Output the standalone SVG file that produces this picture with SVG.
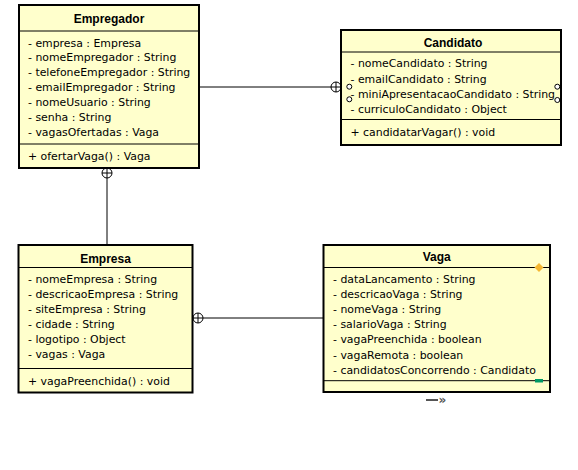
<svg xmlns="http://www.w3.org/2000/svg" width="578" height="470" viewBox="0 0 578 470">
<style>
.box{fill:#FFFFCC;stroke:#000;stroke-width:2}
.sep{stroke:#000;stroke-width:1}
.t{font-family:"Liberation Sans",Arial,sans-serif;font-size:12px;font-weight:bold;fill:#000;text-anchor:middle}
.a{font-family:"DejaVu Sans",Verdana,sans-serif;font-size:10.9px;fill:#000}
.ln{stroke:#000;stroke-width:1;fill:none}
.oc{fill:#fff;stroke:#000;stroke-width:1}
.pt{fill:#fff;stroke:#000;stroke-width:1}
</style>
<rect width="578" height="470" fill="#fff"/>
<g id="connectors">
<line class="ln" x1="199" y1="87" x2="331" y2="87"/>
<g class="oc"><circle cx="336" cy="87" r="5"/><line x1="331" y1="87" x2="341" y2="87"/><line x1="336" y1="82" x2="336" y2="92"/></g>
<line class="ln" x1="107" y1="178" x2="107" y2="245"/>
<g class="oc"><circle cx="107" cy="173" r="5"/><line x1="102" y1="173" x2="112" y2="173"/><line x1="107" y1="168" x2="107" y2="178"/></g>
<line class="ln" x1="203" y1="318" x2="323" y2="318"/>
<g class="oc"><circle cx="198" cy="318" r="5"/><line x1="193" y1="318" x2="203" y2="318"/><line x1="198" y1="313" x2="198" y2="323"/></g>
</g>
<g id="Empregador">
<rect class="box" x="19" y="5" width="180" height="163"/>
<line class="sep" x1="19" y1="31" x2="199" y2="31"/>
<line class="sep" x1="19" y1="144" x2="199" y2="144"/>
<text class="t" x="109" y="22.5">Empregador</text>
<text class="a" x="28" y="46.5">- empresa : Empresa</text>
<text class="a" x="28" y="61.3">- nomeEmpregador : String</text>
<text class="a" x="28" y="76">- telefoneEmpregador : String</text>
<text class="a" x="28" y="90.8">- emailEmpregador : String</text>
<text class="a" x="28" y="105.5">- nomeUsuario : String</text>
<text class="a" x="28" y="120.5">- senha : String</text>
<text class="a" x="28" y="135.5">- vagasOfertadas : Vaga</text>
<text class="a" x="28" y="159.7">+ ofertarVaga() : Vaga</text>
</g>
<g id="Candidato">
<rect class="box" x="341" y="30" width="220" height="115"/>
<line class="sep" x1="341" y1="52" x2="561" y2="52"/>
<line class="sep" x1="341" y1="119.5" x2="561" y2="119.5"/>
<text class="t" x="453" y="47">Candidato</text>
<text class="a" x="350.5" y="67.3">- nomeCandidato : String</text>
<text class="a" x="350.5" y="83">- emailCandidato : String</text>
<text class="a" x="350.5" y="98">- miniApresentacaoCandidato : String</text>
<text class="a" x="350.5" y="113">- curriculoCandidato : Object</text>
<text class="a" x="350.5" y="135.7">+ candidatarVagar() : void</text>
<circle class="pt" cx="349.3" cy="86.7" r="2.5"/>
<circle class="pt" cx="349.3" cy="99.3" r="2.5"/>
<circle class="pt" cx="557.3" cy="86.7" r="2.5"/>
<circle class="pt" cx="557.3" cy="100" r="2.5"/>
</g>
<g id="Empresa">
<rect class="box" x="18.5" y="245" width="174" height="147.5"/>
<line class="sep" x1="18.5" y1="267.5" x2="192.5" y2="267.5"/>
<line class="sep" x1="18.5" y1="368.5" x2="192.5" y2="368.5"/>
<text class="t" x="105.5" y="262.5">Empresa</text>
<text class="a" x="28" y="283.3">- nomeEmpresa : String</text>
<text class="a" x="28" y="298.3">- descricaoEmpresa : String</text>
<text class="a" x="28" y="313.3">- siteEmpresa : String</text>
<text class="a" x="28" y="328.3">- cidade : String</text>
<text class="a" x="28" y="343.3">- logotipo : Object</text>
<text class="a" x="28" y="358.3">- vagas : Vaga</text>
<text class="a" x="28" y="384.7">+ vagaPreenchida() : void</text>
</g>
<g id="Vaga">
<rect class="box" x="323.5" y="245" width="226.5" height="147"/>
<line class="sep" x1="323.5" y1="267.5" x2="550" y2="267.5"/>
<line class="sep" x1="323.5" y1="380.7" x2="550" y2="380.7"/>
<text class="t" x="436.7" y="261">Vaga</text>
<text class="a" x="333" y="283.3">- dataLancamento : String</text>
<text class="a" x="333" y="298.3">- descricaoVaga : String</text>
<text class="a" x="333" y="313.2">- nomeVaga : String</text>
<text class="a" x="333" y="328.3">- salarioVaga : String</text>
<text class="a" x="333" y="343.3">- vagaPreenchida : boolean</text>
<text class="a" x="333" y="358.5">- vagaRemota : boolean</text>
<text class="a" x="333" y="374">- candidatosConcorrendo : Candidato</text>
<polygon points="539,263 543.5,267.5 539,272 534.5,267.5" fill="#F5B731"/>
<rect x="535" y="379" width="8" height="3.5" fill="#009966"/>
<line x1="426" y1="400" x2="438" y2="400" stroke="#555" stroke-width="2"/>
<text x="442.5" y="404" font-family="DejaVu Sans, sans-serif" font-size="12" font-weight="bold" fill="#555" text-anchor="middle">»</text>
</g>
</svg>
